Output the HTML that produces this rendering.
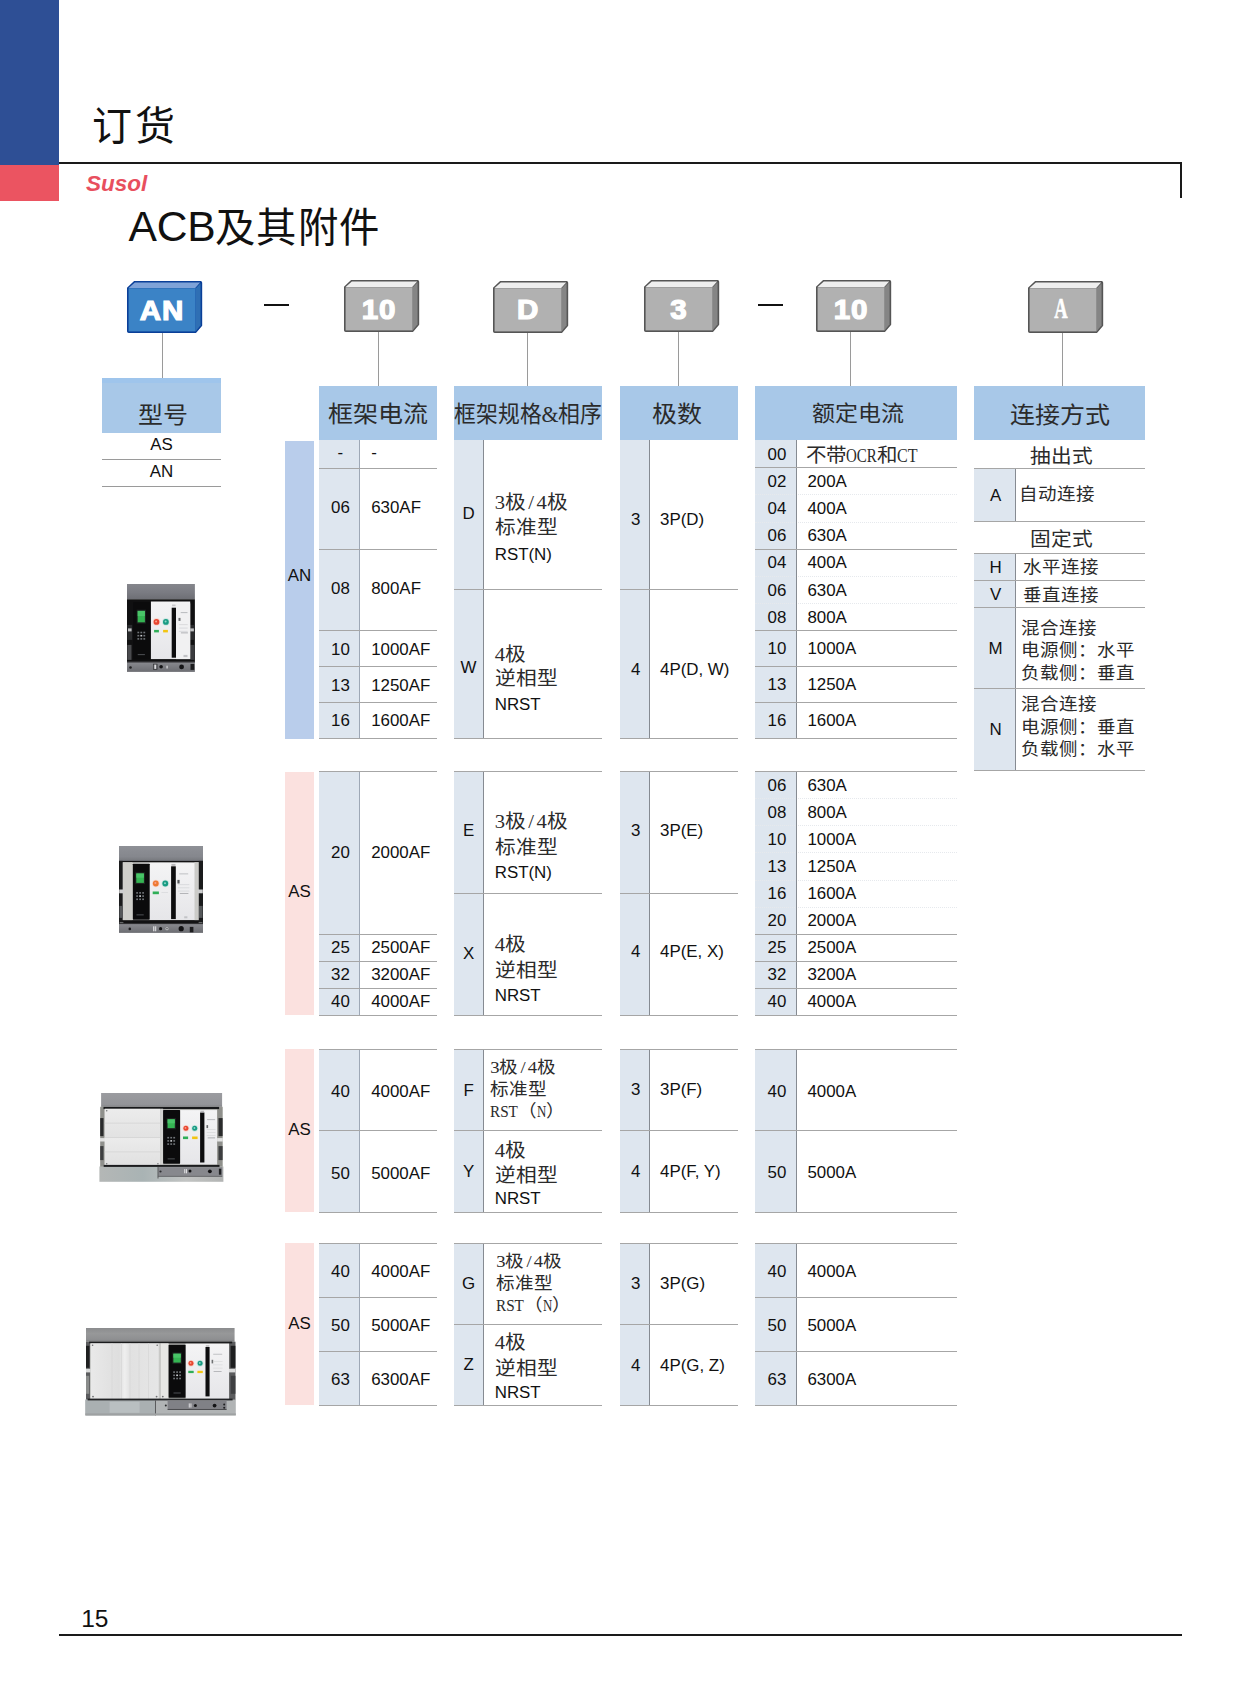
<!DOCTYPE html>
<html lang="zh-CN"><head><meta charset="utf-8"><title>订货 - ACB及其附件</title><style>
html,body{margin:0;padding:0;background:#fff;overflow:hidden}
#pg{position:relative;width:1241px;height:1684px;overflow:hidden;background:#fff;font-family:"Liberation Sans",sans-serif;color:#111}
.r{position:absolute}
.t{position:absolute;white-space:nowrap;line-height:30px;color:#111}
.s{font-family:"Liberation Sans",sans-serif;font-size:16.9px}
.c{font-family:"Liberation Serif",serif;color:#2b2b2b}
.g{font-family:"Liberation Sans",sans-serif;color:#111}
.hw{display:inline-block;vertical-align:baseline}
.hc{display:inline-block;width:.5em;text-align:center}
.hw>span{display:inline-block;transform-origin:0 50%}
</style></head><body><div id="pg">
<div class="r" style="left:0.0px;top:0.0px;width:59.0px;height:165.0px;background:#2e4f95;"></div>
<div class="r" style="left:0.0px;top:165.0px;width:59.0px;height:36.0px;background:#eb5461;"></div>
<div class="r" style="left:59.0px;top:162.2px;width:1122.6px;height:2.3px;background:#1a1a1a;"></div>
<div class="r" style="left:1179.5px;top:162.2px;width:2.2px;height:36.3px;background:#1a1a1a;"></div>
<div class="r" style="left:59.3px;top:1633.5px;width:1122.3px;height:2.2px;background:#1a1a1a;"></div>
<div class="t g" style="left:91.5px;top:96.2px;font-size:40px;line-height:60px;letter-spacing:3.1px">订货</div>
<div class="t" style="left:85.9px;top:169.4px;font-size:22.5px;line-height:30px;font-weight:bold;font-style:italic;color:#e84f5e;font-family:'Liberation Sans',sans-serif">Susol</div>
<div class="t g" style="left:128.6px;top:196.3px;font-size:42.6px;line-height:60px;letter-spacing:-.3px">ACB<span style="font-size:40.4px;position:relative;top:1.2px;letter-spacing:1.2px">及其附件</span></div>
<div class="t s" style="left:81.2px;top:1604.2px;font-size:24.5px;line-height:30px">15</div>
<div class="r" style="left:264.0px;top:304.0px;width:25.0px;height:2.0px;background:#111;"></div>
<div class="r" style="left:758.0px;top:304.0px;width:25.0px;height:2.0px;background:#111;"></div>
<svg class="r" style="left:126.2px;top:279.9px" width="77.2" height="54.0" viewBox="-1 -1 77.2 54.0"><path d="M0.8 7.1 L7.3999999999999995 0.8 L73.60000000000001 0.8 Q74.4 0.8 74.4 1.8 L74.4 44.6 L68.60000000000001 51.2 L1.8 51.2 Q0.8 51.2 0.8 50.2 Z" fill="#0a3f98" stroke="#0a3f98" stroke-width="1.6" stroke-linejoin="round"/><path d="M1.6 6.8999999999999995 L7.8 1.6 L73.2 1.6 L68.2 6.8999999999999995 Z" fill="#7fa3d8"/><path d="M68.80000000000001 7.199999999999999 L73.60000000000001 2.2 L73.60000000000001 44.199999999999996 L68.80000000000001 50.2 Z" fill="#2f6fb4"/><rect x="1.6" y="7.199999999999999" width="67.00000000000001" height="43.199999999999996" fill="#3b83c6"/></svg>
<div class="t" style="left:127.1px;width:70px;text-align:center;top:290.5px;line-height:40px;font-size:27.6px;font-weight:bold;color:#fff;font-family:'Liberation Sans',sans-serif;-webkit-text-stroke:1.2px #fff;letter-spacing:.8px;transform:scaleX(1.07)">AN</div>
<svg class="r" style="left:342.9px;top:279.0px" width="77.2" height="54.0" viewBox="-1 -1 77.2 54.0"><path d="M0.8 7.1 L7.3999999999999995 0.8 L73.60000000000001 0.8 Q74.4 0.8 74.4 1.8 L74.4 44.6 L68.60000000000001 51.2 L1.8 51.2 Q0.8 51.2 0.8 50.2 Z" fill="#555555" stroke="#555555" stroke-width="1.6" stroke-linejoin="round"/><path d="M1.6 6.8999999999999995 L7.8 1.6 L73.2 1.6 L68.2 6.8999999999999995 Z" fill="#eeeeee"/><path d="M68.80000000000001 7.199999999999999 L73.60000000000001 2.2 L73.60000000000001 44.199999999999996 L68.80000000000001 50.2 Z" fill="#858585"/><rect x="1.6" y="7.199999999999999" width="67.00000000000001" height="43.199999999999996" fill="#b1b1b1"/></svg>
<div class="t" style="left:343.8px;width:70px;text-align:center;top:289.6px;line-height:40px;font-size:27.6px;font-weight:bold;color:#fff;font-family:'Liberation Sans',sans-serif;-webkit-text-stroke:1.2px #fff;letter-spacing:.8px;transform:scaleX(1.07)">10</div>
<svg class="r" style="left:491.6px;top:279.6px" width="77.2" height="54.0" viewBox="-1 -1 77.2 54.0"><path d="M0.8 7.1 L7.3999999999999995 0.8 L73.60000000000001 0.8 Q74.4 0.8 74.4 1.8 L74.4 44.6 L68.60000000000001 51.2 L1.8 51.2 Q0.8 51.2 0.8 50.2 Z" fill="#555555" stroke="#555555" stroke-width="1.6" stroke-linejoin="round"/><path d="M1.6 6.8999999999999995 L7.8 1.6 L73.2 1.6 L68.2 6.8999999999999995 Z" fill="#eeeeee"/><path d="M68.80000000000001 7.199999999999999 L73.60000000000001 2.2 L73.60000000000001 44.199999999999996 L68.80000000000001 50.2 Z" fill="#858585"/><rect x="1.6" y="7.199999999999999" width="67.00000000000001" height="43.199999999999996" fill="#b1b1b1"/></svg>
<div class="t" style="left:492.5px;width:70px;text-align:center;top:290.2px;line-height:40px;font-size:27.6px;font-weight:bold;color:#fff;font-family:'Liberation Sans',sans-serif;-webkit-text-stroke:1.2px #fff;letter-spacing:.8px;transform:scaleX(1.07)">D</div>
<svg class="r" style="left:642.8px;top:279.2px" width="77.2" height="54.0" viewBox="-1 -1 77.2 54.0"><path d="M0.8 7.1 L7.3999999999999995 0.8 L73.60000000000001 0.8 Q74.4 0.8 74.4 1.8 L74.4 44.6 L68.60000000000001 51.2 L1.8 51.2 Q0.8 51.2 0.8 50.2 Z" fill="#555555" stroke="#555555" stroke-width="1.6" stroke-linejoin="round"/><path d="M1.6 6.8999999999999995 L7.8 1.6 L73.2 1.6 L68.2 6.8999999999999995 Z" fill="#eeeeee"/><path d="M68.80000000000001 7.199999999999999 L73.60000000000001 2.2 L73.60000000000001 44.199999999999996 L68.80000000000001 50.2 Z" fill="#858585"/><rect x="1.6" y="7.199999999999999" width="67.00000000000001" height="43.199999999999996" fill="#b1b1b1"/></svg>
<div class="t" style="left:643.7px;width:70px;text-align:center;top:289.8px;line-height:40px;font-size:27.6px;font-weight:bold;color:#fff;font-family:'Liberation Sans',sans-serif;-webkit-text-stroke:1.2px #fff;letter-spacing:.8px;transform:scaleX(1.07)">3</div>
<svg class="r" style="left:814.8px;top:279.2px" width="77.2" height="54.0" viewBox="-1 -1 77.2 54.0"><path d="M0.8 7.1 L7.3999999999999995 0.8 L73.60000000000001 0.8 Q74.4 0.8 74.4 1.8 L74.4 44.6 L68.60000000000001 51.2 L1.8 51.2 Q0.8 51.2 0.8 50.2 Z" fill="#555555" stroke="#555555" stroke-width="1.6" stroke-linejoin="round"/><path d="M1.6 6.8999999999999995 L7.8 1.6 L73.2 1.6 L68.2 6.8999999999999995 Z" fill="#eeeeee"/><path d="M68.80000000000001 7.199999999999999 L73.60000000000001 2.2 L73.60000000000001 44.199999999999996 L68.80000000000001 50.2 Z" fill="#858585"/><rect x="1.6" y="7.199999999999999" width="67.00000000000001" height="43.199999999999996" fill="#b1b1b1"/></svg>
<div class="t" style="left:815.7px;width:70px;text-align:center;top:289.8px;line-height:40px;font-size:27.6px;font-weight:bold;color:#fff;font-family:'Liberation Sans',sans-serif;-webkit-text-stroke:1.2px #fff;letter-spacing:.8px;transform:scaleX(1.07)">10</div>
<svg class="r" style="left:1026.7px;top:279.9px" width="77.2" height="54.0" viewBox="-1 -1 77.2 54.0"><path d="M0.8 7.1 L7.3999999999999995 0.8 L73.60000000000001 0.8 Q74.4 0.8 74.4 1.8 L74.4 44.6 L68.60000000000001 51.2 L1.8 51.2 Q0.8 51.2 0.8 50.2 Z" fill="#555555" stroke="#555555" stroke-width="1.6" stroke-linejoin="round"/><path d="M1.6 6.8999999999999995 L7.8 1.6 L73.2 1.6 L68.2 6.8999999999999995 Z" fill="#eeeeee"/><path d="M68.80000000000001 7.199999999999999 L73.60000000000001 2.2 L73.60000000000001 44.199999999999996 L68.80000000000001 50.2 Z" fill="#858585"/><rect x="1.6" y="7.199999999999999" width="67.00000000000001" height="43.199999999999996" fill="#b1b1b1"/></svg>
<div class="t" style="left:1031.1px;width:60px;text-align:center;top:288.3px;line-height:40px;font-size:29px;font-weight:bold;color:#fff;font-family:'Liberation Serif',serif;transform:scaleX(.64);-webkit-text-stroke:.6px #fff">A</div>
<div class="r" style="left:162.1px;top:333.0px;width:1.0px;height:45.2px;background:#9a9a9a;"></div>
<div class="r" style="left:377.8px;top:332.0px;width:1.0px;height:54.5px;background:#9a9a9a;"></div>
<div class="r" style="left:527.0px;top:332.5px;width:1.0px;height:54.0px;background:#9a9a9a;"></div>
<div class="r" style="left:678.0px;top:332.0px;width:1.0px;height:54.5px;background:#9a9a9a;"></div>
<div class="r" style="left:850.0px;top:332.0px;width:1.0px;height:54.0px;background:#9a9a9a;"></div>
<div class="r" style="left:1061.5px;top:333.0px;width:1.0px;height:53.5px;background:#9a9a9a;"></div>
<div class="r" style="left:102.3px;top:378.0px;width:118.4px;height:54.7px;background:#a8c8e8;"></div>
<div class="t c" style="top:400.8px;left:84.3px;width:158.4px;text-align:center;font-size:25px;transform:scale(1.0,0.93);transform-origin:50% 50%;">型号</div>
<div class="r" style="left:102.3px;top:378.0px;width:118.4px;height:5.0px;background:#9fc5ec;"></div>
<div class="r" style="left:318.6px;top:386.4px;width:118.1px;height:53.6px;background:#a8c8e8;"></div>
<div class="t c" style="top:400.3px;left:298.6px;width:158.1px;text-align:center;font-size:25px;transform:scale(1.0,0.93);transform-origin:50% 50%;">框架电流</div>
<div class="r" style="left:454.2px;top:386.4px;width:148.2px;height:53.6px;background:#a8c8e8;"></div>
<div class="t c" style="top:400.3px;left:434.2px;width:188.2px;text-align:center;font-size:25px;transform:scale(0.872,0.93);transform-origin:50% 50%;">框架规格&amp;相序</div>
<div class="r" style="left:619.6px;top:386.4px;width:118.0px;height:53.6px;background:#a8c8e8;"></div>
<div class="t c" style="top:399.8px;left:597.8px;width:158.0px;text-align:center;font-size:25px;transform:scale(1.0,0.93);transform-origin:50% 50%;">极数</div>
<div class="r" style="left:755.0px;top:385.6px;width:201.7px;height:54.2px;background:#a8c8e8;"></div>
<div class="t c" style="top:399.4px;left:736.8px;width:241.7px;text-align:center;font-size:23px;transform:scale(1.0,0.93);transform-origin:50% 50%;">额定电流</div>
<div class="r" style="left:974.0px;top:386.4px;width:171.3px;height:53.6px;background:#a8c8e8;"></div>
<div class="t c" style="top:400.5px;left:954.0px;width:211.3px;text-align:center;font-size:25px;transform:scale(1.0,0.93);transform-origin:50% 50%;">连接方式</div>
<div class="t s" style="top:429.9px;left:61.5px;width:200.0px;text-align:center;">AS</div>
<div class="r" style="left:102.3px;top:459.1px;width:118.4px;height:1.0px;background:#9a9a9a;"></div>
<div class="t s" style="top:457.0px;left:61.5px;width:200.0px;text-align:center;">AN</div>
<div class="r" style="left:102.3px;top:485.9px;width:118.4px;height:1.0px;background:#9a9a9a;"></div>
<div class="r" style="left:284.8px;top:440.5px;width:29.3px;height:298.0px;background:#b9cdeb;"></div>
<div class="t s" style="top:560.7px;left:199.5px;width:200.0px;text-align:center;">AN</div>
<div class="r" style="left:318.6px;top:440.0px;width:41.0px;height:298.0px;background:#dee6ef;"></div>
<div class="r" style="left:358.8px;top:440.0px;width:1.6px;height:298.0px;background:#9ea8b6;"></div>
<div class="r" style="left:318.6px;top:467.5px;width:118.1px;height:1.0px;background:#a6a6a6;"></div>
<div class="r" style="left:318.6px;top:549.0px;width:118.1px;height:1.0px;background:#a6a6a6;"></div>
<div class="r" style="left:318.6px;top:630.0px;width:118.1px;height:1.0px;background:#a6a6a6;"></div>
<div class="r" style="left:318.6px;top:665.9px;width:118.1px;height:1.0px;background:#a6a6a6;"></div>
<div class="r" style="left:318.6px;top:701.8px;width:118.1px;height:1.0px;background:#a6a6a6;"></div>
<div class="r" style="left:318.6px;top:737.5px;width:118.1px;height:1.0px;background:#a6a6a6;"></div>
<div class="t s" style="top:438.1px;left:240.4px;width:200.0px;text-align:center;">-</div>
<div class="t s" style="top:492.7px;left:240.4px;width:200.0px;text-align:center;">06</div>
<div class="t s" style="top:573.9px;left:240.4px;width:200.0px;text-align:center;">08</div>
<div class="t s" style="top:634.5px;left:240.4px;width:200.0px;text-align:center;">10</div>
<div class="t s" style="top:670.5px;left:240.4px;width:200.0px;text-align:center;">13</div>
<div class="t s" style="top:706.3px;left:240.4px;width:200.0px;text-align:center;">16</div>
<div class="t s" style="top:438.1px;left:371.2px;">-</div>
<div class="t s" style="top:492.7px;left:371.2px;">630AF</div>
<div class="t s" style="top:573.9px;left:371.2px;">800AF</div>
<div class="t s" style="top:634.5px;left:371.2px;">1000AF</div>
<div class="t s" style="top:670.5px;left:371.2px;">1250AF</div>
<div class="t s" style="top:706.3px;left:371.2px;">1600AF</div>
<div class="r" style="left:454.2px;top:440.0px;width:29.3px;height:298.0px;background:#dee6ef;"></div>
<div class="r" style="left:483.0px;top:440.0px;width:1.0px;height:298.0px;background:#868b92;"></div>
<div class="r" style="left:454.2px;top:588.5px;width:148.2px;height:1.0px;background:#a6a6a6;"></div>
<div class="r" style="left:454.2px;top:737.5px;width:148.2px;height:1.0px;background:#a6a6a6;"></div>
<div class="t s" style="top:498.7px;left:368.6px;width:200.0px;text-align:center;">D</div>
<div class="t s" style="top:652.7px;left:368.6px;width:200.0px;text-align:center;">W</div>
<div class="t c" style="top:487.2px;left:494.7px;font-size:20.7px;transform:scale(1.0,0.93);transform-origin:0 50%;">3极<span class="hc">/</span>4极</div>
<div class="t c" style="top:512.4px;left:494.7px;font-size:20.7px;transform:scale(1.0,0.93);transform-origin:0 50%;">标准型</div>
<div class="t s" style="top:540.3px;left:494.7px;">RST(N)</div>
<div class="t c" style="top:639.4px;left:494.7px;font-size:20.7px;transform:scale(1.0,0.93);transform-origin:0 50%;">4极</div>
<div class="t c" style="top:663.4px;left:494.7px;font-size:20.7px;transform:scale(1.0,0.93);transform-origin:0 50%;">逆相型</div>
<div class="t s" style="top:690.0px;left:494.7px;">NRST</div>
<div class="r" style="left:619.6px;top:440.0px;width:29.9px;height:298.0px;background:#dee6ef;"></div>
<div class="r" style="left:649.0px;top:440.0px;width:1.0px;height:298.0px;background:#868b92;"></div>
<div class="r" style="left:619.6px;top:588.5px;width:118.0px;height:1.0px;background:#a6a6a6;"></div>
<div class="r" style="left:619.6px;top:737.5px;width:118.0px;height:1.0px;background:#a6a6a6;"></div>
<div class="t s" style="top:505.1px;left:535.8px;width:200.0px;text-align:center;">3</div>
<div class="t s" style="top:654.7px;left:535.8px;width:200.0px;text-align:center;">4</div>
<div class="t s" style="top:505.1px;left:660.0px;">3P(D)</div>
<div class="t s" style="top:654.7px;left:660.0px;">4P(D, W)</div>
<div class="r" style="left:755.0px;top:440.0px;width:41.5px;height:298.2px;background:#dee6ef;"></div>
<div class="r" style="left:755.0px;top:494.3px;width:201.7px;height:0;border-top:1px dotted #e6e9ed"></div>
<div class="r" style="left:755.0px;top:521.5px;width:201.7px;height:0;border-top:1px dotted #e6e9ed"></div>
<div class="r" style="left:755.0px;top:575.8px;width:201.7px;height:0;border-top:1px dotted #e6e9ed"></div>
<div class="r" style="left:755.0px;top:603.0px;width:201.7px;height:0;border-top:1px dotted #e6e9ed"></div>
<div class="r" style="left:796.0px;top:440.0px;width:1.0px;height:298.2px;background:#868b92;"></div>
<div class="r" style="left:755.0px;top:467.2px;width:201.7px;height:1.0px;background:#a6a6a6;"></div>
<div class="r" style="left:755.0px;top:548.7px;width:201.7px;height:1.0px;background:#a6a6a6;"></div>
<div class="r" style="left:755.0px;top:629.9px;width:201.7px;height:1.0px;background:#a6a6a6;"></div>
<div class="r" style="left:755.0px;top:665.8px;width:201.7px;height:1.0px;background:#a6a6a6;"></div>
<div class="r" style="left:755.0px;top:701.8px;width:201.7px;height:1.0px;background:#a6a6a6;"></div>
<div class="r" style="left:755.0px;top:737.7px;width:201.7px;height:1.0px;background:#a6a6a6;"></div>
<div class="t s" style="top:440.0px;left:676.9px;width:200.0px;text-align:center;">00</div>
<div class="t s" style="top:466.9px;left:676.9px;width:200.0px;text-align:center;">02</div>
<div class="t s" style="top:494.0px;left:676.9px;width:200.0px;text-align:center;">04</div>
<div class="t s" style="top:521.2px;left:676.9px;width:200.0px;text-align:center;">06</div>
<div class="t s" style="top:548.3px;left:676.9px;width:200.0px;text-align:center;">04</div>
<div class="t s" style="top:575.5px;left:676.9px;width:200.0px;text-align:center;">06</div>
<div class="t s" style="top:602.6px;left:676.9px;width:200.0px;text-align:center;">08</div>
<div class="t s" style="top:634.1px;left:676.9px;width:200.0px;text-align:center;">10</div>
<div class="t s" style="top:670.1px;left:676.9px;width:200.0px;text-align:center;">13</div>
<div class="t s" style="top:706.1px;left:676.9px;width:200.0px;text-align:center;">16</div>
<div class="t s" style="top:466.9px;left:807.4px;">200A</div>
<div class="t s" style="top:494.0px;left:807.4px;">400A</div>
<div class="t s" style="top:521.2px;left:807.4px;">630A</div>
<div class="t s" style="top:548.3px;left:807.4px;">400A</div>
<div class="t s" style="top:575.5px;left:807.4px;">630A</div>
<div class="t s" style="top:602.6px;left:807.4px;">800A</div>
<div class="t s" style="top:634.1px;left:807.4px;">1000A</div>
<div class="t s" style="top:670.1px;left:807.4px;">1250A</div>
<div class="t s" style="top:706.1px;left:807.4px;">1600A</div>
<div class="t c" style="top:439.8px;left:806.0px;font-size:20.5px;transform:scale(1.0,0.93);transform-origin:0 50%;">不带<span class="hw" style="width:30.75px"><span style="transform:scaleX(0.730)">OCR</span></span>和<span class="hw" style="width:20.50px"><span style="transform:scaleX(0.783)">CT</span></span></div>
<div class="r" style="left:284.8px;top:771.8px;width:29.3px;height:243.4px;background:#fbe1df;"></div>
<div class="t s" style="top:877.3px;left:199.5px;width:200.0px;text-align:center;">AS</div>
<div class="r" style="left:318.6px;top:771.4px;width:41.0px;height:243.8px;background:#dee6ef;"></div>
<div class="r" style="left:358.8px;top:771.4px;width:1.6px;height:243.8px;background:#9ea8b6;"></div>
<div class="r" style="left:318.6px;top:770.9px;width:118.1px;height:1.0px;background:#a6a6a6;"></div>
<div class="r" style="left:318.6px;top:933.7px;width:118.1px;height:1.0px;background:#a6a6a6;"></div>
<div class="r" style="left:318.6px;top:960.8px;width:118.1px;height:1.0px;background:#a6a6a6;"></div>
<div class="r" style="left:318.6px;top:987.7px;width:118.1px;height:1.0px;background:#a6a6a6;"></div>
<div class="r" style="left:318.6px;top:1014.7px;width:118.1px;height:1.0px;background:#a6a6a6;"></div>
<div class="t s" style="top:838.1px;left:240.4px;width:200.0px;text-align:center;">20</div>
<div class="t s" style="top:933.0px;left:240.4px;width:200.0px;text-align:center;">25</div>
<div class="t s" style="top:960.0px;left:240.4px;width:200.0px;text-align:center;">32</div>
<div class="t s" style="top:987.0px;left:240.4px;width:200.0px;text-align:center;">40</div>
<div class="t s" style="top:838.1px;left:371.2px;">2000AF</div>
<div class="t s" style="top:933.0px;left:371.2px;">2500AF</div>
<div class="t s" style="top:960.0px;left:371.2px;">3200AF</div>
<div class="t s" style="top:987.0px;left:371.2px;">4000AF</div>
<div class="r" style="left:454.2px;top:771.4px;width:29.3px;height:243.8px;background:#dee6ef;"></div>
<div class="r" style="left:483.0px;top:771.4px;width:1.0px;height:243.8px;background:#868b92;"></div>
<div class="r" style="left:454.2px;top:770.9px;width:148.2px;height:1.0px;background:#a6a6a6;"></div>
<div class="r" style="left:454.2px;top:892.7px;width:148.2px;height:1.0px;background:#a6a6a6;"></div>
<div class="r" style="left:454.2px;top:1014.7px;width:148.2px;height:1.0px;background:#a6a6a6;"></div>
<div class="t s" style="top:816.2px;left:368.6px;width:200.0px;text-align:center;">E</div>
<div class="t s" style="top:938.5px;left:368.6px;width:200.0px;text-align:center;">X</div>
<div class="t c" style="top:806.4px;left:494.7px;font-size:20.7px;transform:scale(1.0,0.93);transform-origin:0 50%;">3极<span class="hc">/</span>4极</div>
<div class="t c" style="top:831.6px;left:494.7px;font-size:20.7px;transform:scale(1.0,0.93);transform-origin:0 50%;">标准型</div>
<div class="t s" style="top:858.2px;left:494.7px;">RST(N)</div>
<div class="t c" style="top:928.9px;left:494.7px;font-size:20.7px;transform:scale(1.0,0.93);transform-origin:0 50%;">4极</div>
<div class="t c" style="top:954.9px;left:494.7px;font-size:20.7px;transform:scale(1.0,0.93);transform-origin:0 50%;">逆相型</div>
<div class="t s" style="top:981.0px;left:494.7px;">NRST</div>
<div class="r" style="left:619.6px;top:771.4px;width:29.9px;height:243.8px;background:#dee6ef;"></div>
<div class="r" style="left:649.0px;top:771.4px;width:1.0px;height:243.8px;background:#868b92;"></div>
<div class="r" style="left:619.6px;top:770.9px;width:118.0px;height:1.0px;background:#a6a6a6;"></div>
<div class="r" style="left:619.6px;top:892.7px;width:118.0px;height:1.0px;background:#a6a6a6;"></div>
<div class="r" style="left:619.6px;top:1014.7px;width:118.0px;height:1.0px;background:#a6a6a6;"></div>
<div class="t s" style="top:816.2px;left:535.8px;width:200.0px;text-align:center;">3</div>
<div class="t s" style="top:937.2px;left:535.8px;width:200.0px;text-align:center;">4</div>
<div class="t s" style="top:816.2px;left:660.0px;">3P(E)</div>
<div class="t s" style="top:937.2px;left:660.0px;">4P(E, X)</div>
<div class="r" style="left:755.0px;top:771.4px;width:41.5px;height:243.8px;background:#dee6ef;"></div>
<div class="r" style="left:755.0px;top:798.1px;width:201.7px;height:0;border-top:1px dotted #e6e9ed"></div>
<div class="r" style="left:755.0px;top:825.2px;width:201.7px;height:0;border-top:1px dotted #e6e9ed"></div>
<div class="r" style="left:755.0px;top:852.3px;width:201.7px;height:0;border-top:1px dotted #e6e9ed"></div>
<div class="r" style="left:755.0px;top:879.5px;width:201.7px;height:0;border-top:1px dotted #e6e9ed"></div>
<div class="r" style="left:755.0px;top:906.5px;width:201.7px;height:0;border-top:1px dotted #e6e9ed"></div>
<div class="r" style="left:796.0px;top:771.4px;width:1.0px;height:243.8px;background:#868b92;"></div>
<div class="r" style="left:755.0px;top:770.9px;width:201.7px;height:1.0px;background:#a6a6a6;"></div>
<div class="r" style="left:755.0px;top:933.5px;width:201.7px;height:1.0px;background:#a6a6a6;"></div>
<div class="r" style="left:755.0px;top:960.5px;width:201.7px;height:1.0px;background:#a6a6a6;"></div>
<div class="r" style="left:755.0px;top:987.7px;width:201.7px;height:1.0px;background:#a6a6a6;"></div>
<div class="r" style="left:755.0px;top:1014.7px;width:201.7px;height:1.0px;background:#a6a6a6;"></div>
<div class="t s" style="top:770.5px;left:676.9px;width:200.0px;text-align:center;">06</div>
<div class="t s" style="top:797.6px;left:676.9px;width:200.0px;text-align:center;">08</div>
<div class="t s" style="top:824.7px;left:676.9px;width:200.0px;text-align:center;">10</div>
<div class="t s" style="top:851.8px;left:676.9px;width:200.0px;text-align:center;">13</div>
<div class="t s" style="top:878.9px;left:676.9px;width:200.0px;text-align:center;">16</div>
<div class="t s" style="top:906.0px;left:676.9px;width:200.0px;text-align:center;">20</div>
<div class="t s" style="top:933.0px;left:676.9px;width:200.0px;text-align:center;">25</div>
<div class="t s" style="top:960.0px;left:676.9px;width:200.0px;text-align:center;">32</div>
<div class="t s" style="top:987.0px;left:676.9px;width:200.0px;text-align:center;">40</div>
<div class="t s" style="top:770.5px;left:807.4px;">630A</div>
<div class="t s" style="top:797.6px;left:807.4px;">800A</div>
<div class="t s" style="top:824.7px;left:807.4px;">1000A</div>
<div class="t s" style="top:851.8px;left:807.4px;">1250A</div>
<div class="t s" style="top:878.9px;left:807.4px;">1600A</div>
<div class="t s" style="top:906.0px;left:807.4px;">2000A</div>
<div class="t s" style="top:933.0px;left:807.4px;">2500A</div>
<div class="t s" style="top:960.0px;left:807.4px;">3200A</div>
<div class="t s" style="top:987.0px;left:807.4px;">4000A</div>
<div class="r" style="left:284.8px;top:1049.4px;width:29.3px;height:162.4px;background:#fbe1df;"></div>
<div class="t s" style="top:1115.0px;left:199.5px;width:200.0px;text-align:center;">AS</div>
<div class="r" style="left:318.6px;top:1049.4px;width:41.0px;height:162.6px;background:#dee6ef;"></div>
<div class="r" style="left:358.8px;top:1049.4px;width:1.6px;height:162.6px;background:#9ea8b6;"></div>
<div class="r" style="left:318.6px;top:1048.9px;width:118.1px;height:1.0px;background:#a6a6a6;"></div>
<div class="r" style="left:318.6px;top:1130.0px;width:118.1px;height:1.0px;background:#a6a6a6;"></div>
<div class="r" style="left:318.6px;top:1211.5px;width:118.1px;height:1.0px;background:#a6a6a6;"></div>
<div class="t s" style="top:1077.0px;left:240.4px;width:200.0px;text-align:center;">40</div>
<div class="t s" style="top:1158.5px;left:240.4px;width:200.0px;text-align:center;">50</div>
<div class="t s" style="top:1077.0px;left:371.2px;">4000AF</div>
<div class="t s" style="top:1158.5px;left:371.2px;">5000AF</div>
<div class="r" style="left:454.2px;top:1049.4px;width:29.3px;height:162.6px;background:#dee6ef;"></div>
<div class="r" style="left:483.0px;top:1049.4px;width:1.0px;height:162.6px;background:#868b92;"></div>
<div class="r" style="left:454.2px;top:1048.9px;width:148.2px;height:1.0px;background:#a6a6a6;"></div>
<div class="r" style="left:454.2px;top:1130.0px;width:148.2px;height:1.0px;background:#a6a6a6;"></div>
<div class="r" style="left:454.2px;top:1211.5px;width:148.2px;height:1.0px;background:#a6a6a6;"></div>
<div class="t s" style="top:1075.5px;left:368.6px;width:200.0px;text-align:center;">F</div>
<div class="t s" style="top:1156.7px;left:368.6px;width:200.0px;text-align:center;">Y</div>
<div class="t c" style="top:1052.0px;left:490.2px;font-size:18.6px;transform:scale(1.0,0.93);transform-origin:0 50%;">3极<span class="hc">/</span>4极</div>
<div class="t c" style="top:1073.8px;left:490.2px;font-size:18.6px;transform:scale(1.0,0.93);transform-origin:0 50%;">标准型</div>
<div class="t c" style="top:1096.4px;left:490.2px;font-size:18.6px;transform:scale(1.0,0.93);transform-origin:0 50%;"><span class="hw" style="width:27.90px"><span style="transform:scaleX(0.818)">RST</span></span>（<span class="hw" style="width:9.30px"><span style="transform:scaleX(0.692)">N</span></span>）</div>
<div class="t c" style="top:1135.3px;left:494.7px;font-size:20.7px;transform:scale(1.0,0.93);transform-origin:0 50%;">4极</div>
<div class="t c" style="top:1159.6px;left:494.7px;font-size:20.7px;transform:scale(1.0,0.93);transform-origin:0 50%;">逆相型</div>
<div class="t s" style="top:1183.9px;left:494.7px;">NRST</div>
<div class="r" style="left:619.6px;top:1049.4px;width:29.9px;height:162.6px;background:#dee6ef;"></div>
<div class="r" style="left:649.0px;top:1049.4px;width:1.0px;height:162.6px;background:#868b92;"></div>
<div class="r" style="left:619.6px;top:1048.9px;width:118.0px;height:1.0px;background:#a6a6a6;"></div>
<div class="r" style="left:619.6px;top:1130.0px;width:118.0px;height:1.0px;background:#a6a6a6;"></div>
<div class="r" style="left:619.6px;top:1211.5px;width:118.0px;height:1.0px;background:#a6a6a6;"></div>
<div class="t s" style="top:1075.2px;left:535.8px;width:200.0px;text-align:center;">3</div>
<div class="t s" style="top:1157.0px;left:535.8px;width:200.0px;text-align:center;">4</div>
<div class="t s" style="top:1075.2px;left:660.0px;">3P(F)</div>
<div class="t s" style="top:1157.0px;left:660.0px;">4P(F, Y)</div>
<div class="r" style="left:755.0px;top:1049.4px;width:41.5px;height:162.6px;background:#dee6ef;"></div>
<div class="r" style="left:796.0px;top:1049.4px;width:1.0px;height:162.6px;background:#868b92;"></div>
<div class="r" style="left:755.0px;top:1048.9px;width:201.7px;height:1.0px;background:#a6a6a6;"></div>
<div class="r" style="left:755.0px;top:1130.0px;width:201.7px;height:1.0px;background:#a6a6a6;"></div>
<div class="r" style="left:755.0px;top:1211.5px;width:201.7px;height:1.0px;background:#a6a6a6;"></div>
<div class="t s" style="top:1077.2px;left:676.9px;width:200.0px;text-align:center;">40</div>
<div class="t s" style="top:1158.4px;left:676.9px;width:200.0px;text-align:center;">50</div>
<div class="t s" style="top:1077.2px;left:807.4px;">4000A</div>
<div class="t s" style="top:1158.4px;left:807.4px;">5000A</div>
<div class="r" style="left:284.8px;top:1243.4px;width:29.3px;height:162.0px;background:#fbe1df;"></div>
<div class="t s" style="top:1308.7px;left:199.5px;width:200.0px;text-align:center;">AS</div>
<div class="r" style="left:318.6px;top:1243.5px;width:41.0px;height:161.8px;background:#dee6ef;"></div>
<div class="r" style="left:358.8px;top:1243.5px;width:1.6px;height:161.8px;background:#9ea8b6;"></div>
<div class="r" style="left:318.6px;top:1243.0px;width:118.1px;height:1.0px;background:#a6a6a6;"></div>
<div class="r" style="left:318.6px;top:1296.8px;width:118.1px;height:1.0px;background:#a6a6a6;"></div>
<div class="r" style="left:318.6px;top:1350.8px;width:118.1px;height:1.0px;background:#a6a6a6;"></div>
<div class="r" style="left:318.6px;top:1404.8px;width:118.1px;height:1.0px;background:#a6a6a6;"></div>
<div class="t s" style="top:1256.5px;left:240.4px;width:200.0px;text-align:center;">40</div>
<div class="t s" style="top:1310.5px;left:240.4px;width:200.0px;text-align:center;">50</div>
<div class="t s" style="top:1364.9px;left:240.4px;width:200.0px;text-align:center;">63</div>
<div class="t s" style="top:1256.5px;left:371.2px;">4000AF</div>
<div class="t s" style="top:1310.5px;left:371.2px;">5000AF</div>
<div class="t s" style="top:1364.9px;left:371.2px;">6300AF</div>
<div class="r" style="left:454.2px;top:1243.5px;width:29.3px;height:161.8px;background:#dee6ef;"></div>
<div class="r" style="left:483.0px;top:1243.5px;width:1.0px;height:161.8px;background:#868b92;"></div>
<div class="r" style="left:454.2px;top:1243.0px;width:148.2px;height:1.0px;background:#a6a6a6;"></div>
<div class="r" style="left:454.2px;top:1324.1px;width:148.2px;height:1.0px;background:#a6a6a6;"></div>
<div class="r" style="left:454.2px;top:1404.8px;width:148.2px;height:1.0px;background:#a6a6a6;"></div>
<div class="t s" style="top:1269.2px;left:368.6px;width:200.0px;text-align:center;">G</div>
<div class="t s" style="top:1349.5px;left:368.6px;width:200.0px;text-align:center;">Z</div>
<div class="t c" style="top:1245.7px;left:496.2px;font-size:18.6px;transform:scale(1.0,0.93);transform-origin:0 50%;">3极<span class="hc">/</span>4极</div>
<div class="t c" style="top:1268.3px;left:496.2px;font-size:18.6px;transform:scale(1.0,0.93);transform-origin:0 50%;">标准型</div>
<div class="t c" style="top:1290.4px;left:496.2px;font-size:18.6px;transform:scale(1.0,0.93);transform-origin:0 50%;"><span class="hw" style="width:27.90px"><span style="transform:scaleX(0.818)">RST</span></span>（<span class="hw" style="width:9.30px"><span style="transform:scaleX(0.692)">N</span></span>）</div>
<div class="t c" style="top:1327.2px;left:494.7px;font-size:20.7px;transform:scale(1.0,0.93);transform-origin:0 50%;">4极</div>
<div class="t c" style="top:1352.7px;left:494.7px;font-size:20.7px;transform:scale(1.0,0.93);transform-origin:0 50%;">逆相型</div>
<div class="t s" style="top:1378.1px;left:494.7px;">NRST</div>
<div class="r" style="left:619.6px;top:1243.5px;width:29.9px;height:161.8px;background:#dee6ef;"></div>
<div class="r" style="left:649.0px;top:1243.5px;width:1.0px;height:161.8px;background:#868b92;"></div>
<div class="r" style="left:619.6px;top:1243.0px;width:118.0px;height:1.0px;background:#a6a6a6;"></div>
<div class="r" style="left:619.6px;top:1324.1px;width:118.0px;height:1.0px;background:#a6a6a6;"></div>
<div class="r" style="left:619.6px;top:1404.8px;width:118.0px;height:1.0px;background:#a6a6a6;"></div>
<div class="t s" style="top:1268.7px;left:535.8px;width:200.0px;text-align:center;">3</div>
<div class="t s" style="top:1350.5px;left:535.8px;width:200.0px;text-align:center;">4</div>
<div class="t s" style="top:1268.7px;left:660.0px;">3P(G)</div>
<div class="t s" style="top:1350.5px;left:660.0px;">4P(G, Z)</div>
<div class="r" style="left:755.0px;top:1243.5px;width:41.5px;height:161.8px;background:#dee6ef;"></div>
<div class="r" style="left:796.0px;top:1243.5px;width:1.0px;height:161.8px;background:#868b92;"></div>
<div class="r" style="left:755.0px;top:1243.0px;width:201.7px;height:1.0px;background:#a6a6a6;"></div>
<div class="r" style="left:755.0px;top:1296.8px;width:201.7px;height:1.0px;background:#a6a6a6;"></div>
<div class="r" style="left:755.0px;top:1350.8px;width:201.7px;height:1.0px;background:#a6a6a6;"></div>
<div class="r" style="left:755.0px;top:1404.8px;width:201.7px;height:1.0px;background:#a6a6a6;"></div>
<div class="t s" style="top:1256.5px;left:676.9px;width:200.0px;text-align:center;">40</div>
<div class="t s" style="top:1310.7px;left:676.9px;width:200.0px;text-align:center;">50</div>
<div class="t s" style="top:1364.5px;left:676.9px;width:200.0px;text-align:center;">63</div>
<div class="t s" style="top:1256.5px;left:807.4px;">4000A</div>
<div class="t s" style="top:1310.7px;left:807.4px;">5000A</div>
<div class="t s" style="top:1364.5px;left:807.4px;">6300A</div>
<div class="t c" style="top:440.8px;left:961.4px;width:200.0px;text-align:center;font-size:20.7px;transform:scale(1.0,0.93);transform-origin:50% 50%;">抽出式</div>
<div class="r" style="left:974.0px;top:468.0px;width:41.5px;height:53.8px;background:#dee6ef;"></div>
<div class="r" style="left:1015.0px;top:468.0px;width:1.0px;height:53.8px;background:#868b92;"></div>
<div class="r" style="left:974.0px;top:467.5px;width:171.3px;height:1.0px;background:#a6a6a6;"></div>
<div class="t s" style="top:481.0px;left:895.6px;width:200.0px;text-align:center;">A</div>
<div class="t c" style="top:478.8px;left:1019.2px;font-size:18.5px;transform:scale(1.0,0.93);transform-origin:0 50%;">自动连接</div>
<div class="r" style="left:974.0px;top:521.3px;width:171.3px;height:1.0px;background:#a6a6a6;"></div>
<div class="t c" style="top:523.8px;left:961.4px;width:200.0px;text-align:center;font-size:20.7px;transform:scale(1.0,0.93);transform-origin:50% 50%;">固定式</div>
<div class="r" style="left:974.0px;top:553.2px;width:41.5px;height:216.8px;background:#dee6ef;"></div>
<div class="r" style="left:1015.0px;top:553.2px;width:1.0px;height:216.8px;background:#868b92;"></div>
<div class="r" style="left:974.0px;top:552.7px;width:171.3px;height:1.0px;background:#a6a6a6;"></div>
<div class="r" style="left:974.0px;top:579.9px;width:171.3px;height:1.0px;background:#a6a6a6;"></div>
<div class="r" style="left:974.0px;top:606.9px;width:171.3px;height:1.0px;background:#a6a6a6;"></div>
<div class="r" style="left:974.0px;top:688.1px;width:171.3px;height:1.0px;background:#a6a6a6;"></div>
<div class="r" style="left:974.0px;top:769.5px;width:171.3px;height:1.0px;background:#a6a6a6;"></div>
<div class="t s" style="top:552.7px;left:895.6px;width:200.0px;text-align:center;">H</div>
<div class="t c" style="top:552.3px;left:1022.5px;font-size:18.5px;transform:scale(1.0,0.93);transform-origin:0 50%;">水平连接</div>
<div class="t s" style="top:579.7px;left:895.6px;width:200.0px;text-align:center;">V</div>
<div class="t c" style="top:579.8px;left:1022.5px;font-size:18.5px;transform:scale(1.0,0.93);transform-origin:0 50%;">垂直连接</div>
<div class="t s" style="top:633.7px;left:895.6px;width:200.0px;text-align:center;">M</div>
<div class="t c" style="top:612.8px;left:1020.5px;font-size:18.5px;transform:scale(1.0,0.93);transform-origin:0 50%;">混合连接</div>
<div class="t c" style="top:635.0px;left:1020.5px;font-size:18.5px;transform:scale(1.0,0.93);transform-origin:0 50%;">电源侧：水平</div>
<div class="t c" style="top:657.6px;left:1020.5px;font-size:18.5px;transform:scale(1.0,0.93);transform-origin:0 50%;">负载侧：垂直</div>
<div class="t s" style="top:714.6px;left:895.6px;width:200.0px;text-align:center;">N</div>
<div class="t c" style="top:689.2px;left:1020.5px;font-size:18.5px;transform:scale(1.0,0.93);transform-origin:0 50%;">混合连接</div>
<div class="t c" style="top:712.0px;left:1020.5px;font-size:18.5px;transform:scale(1.0,0.93);transform-origin:0 50%;">电源侧：垂直</div>
<div class="t c" style="top:734.2px;left:1020.5px;font-size:18.5px;transform:scale(1.0,0.93);transform-origin:0 50%;">负载侧：水平</div>
<svg class="r" style="left:126.1px;top:583.1px" width="69.9" height="89.9" viewBox="126.1 583.1 69.9 89.9"><defs><linearGradient id="gt" x1="0" y1="0" x2="0" y2="1"><stop offset="0" stop-color="#85868c"/><stop offset=".55" stop-color="#7a7b82"/><stop offset="1" stop-color="#6d6e74"/></linearGradient><linearGradient id="gw" x1="0" y1="0" x2="0" y2="1"><stop offset="0" stop-color="#f4f4f5"/><stop offset="1" stop-color="#e6e6e9"/></linearGradient><linearGradient id="gs" x1="0" y1="0" x2="1" y2="0"><stop offset="0" stop-color="#d4d4d2"/><stop offset=".5" stop-color="#ececec"/><stop offset="1" stop-color="#d8d8d8"/></linearGradient><linearGradient id="gb" x1="0" y1="0" x2="0" y2="1"><stop offset="0" stop-color="#8a8b90"/><stop offset="1" stop-color="#6c6d72"/></linearGradient></defs><rect x="127.1" y="584.1" width="67.9" height="15.5" fill="url(#gt)" /><rect x="127.1" y="599.4" width="67.9" height="62.8" fill="#101011" /><rect x="127.4" y="625.0" width="4.9" height="15.0" fill="#2a2b2d" /><rect x="189.8" y="625.0" width="4.9" height="15.0" fill="#2a2b2d" /><rect x="128.1" y="628.5" width="3.6" height="3.0" fill="#bfc0c2" /><rect x="190.4" y="628.5" width="3.6" height="3.0" fill="#bfc0c2" /><rect x="127.4" y="645.0" width="4.2" height="15.0" fill="#4a4b4e" /><rect x="190.5" y="645.0" width="4.2" height="15.0" fill="#3a3b3e" /><rect x="151.0" y="601.6" width="39.3" height="57.6" fill="url(#gw)" /><rect x="176.2" y="603.5" width="14.1" height="55.7" fill="#f1f1f2" /><rect x="133.4" y="602.2" width="17.0" height="57.4" fill="#0b0b0c" rx="0.6"/><rect x="136.8" y="609.8" width="9.2" height="13.8" fill="#1f2422" /><rect x="137.8" y="611.0" width="7.2" height="11.4" fill="#35b553" /><rect x="137.8" y="611.0" width="7.2" height="5.1" fill="#49c468" /><rect x="137.5" y="631.8" width="1.8" height="1.6" fill="#6f7377" /><rect x="137.5" y="635.0" width="1.8" height="1.6" fill="#6f7377" /><rect x="137.5" y="638.2" width="1.8" height="1.6" fill="#6f7377" /><rect x="140.5" y="631.8" width="1.8" height="1.6" fill="#6f7377" /><rect x="140.5" y="635.0" width="1.8" height="1.6" fill="#c9cccf" /><rect x="140.5" y="638.2" width="1.8" height="1.6" fill="#6f7377" /><rect x="143.5" y="631.8" width="1.8" height="1.6" fill="#6f7377" /><rect x="143.5" y="635.0" width="1.8" height="1.6" fill="#6f7377" /><rect x="143.5" y="638.2" width="1.8" height="1.6" fill="#6f7377" /><rect x="137.8" y="654.4" width="7.2" height="0.8" fill="#5d6166" /><rect x="171.8" y="607.8" width="4.3" height="50.0" fill="#0d0d0e" /><rect x="172.2" y="604.6" width="3.5" height="1.8" fill="#c9c9cc" /><circle cx="156.6" cy="622.0" r="3.8" fill="#f7d9d2" /><circle cx="156.6" cy="622.0" r="2.9" fill="#e8452f" /><circle cx="156.2" cy="621.6" r="1.0" fill="#f7a28f" /><circle cx="166.0" cy="622.0" r="3.8" fill="#cfe7e2" /><circle cx="166.0" cy="622.0" r="2.9" fill="#179b83" /><circle cx="165.7" cy="621.7" r="1.0" fill="#8fd6c6" /><rect x="154.2" y="630.0" width="4.8" height="2.5" fill="#2fae57" /><rect x="163.2" y="630.0" width="4.8" height="2.5" fill="#f2c512" /><rect x="178.6" y="618.0" width="2.0" height="3.0" fill="#6b6d70" /><rect x="180.8" y="612.2" width="6.8" height="1.0" fill="#b9bbbe" /><rect x="179.0" y="624.5" width="8.8" height="0.7" fill="#cfd0d3" /><rect x="179.0" y="627.8" width="8.8" height="0.7" fill="#cfd0d3" /><rect x="179.0" y="631.0" width="8.8" height="0.7" fill="#cfd0d3" /><rect x="181.0" y="632.6" width="7.0" height="0.8" fill="#9fa1a5" /><rect x="183.6" y="655.0" width="4.0" height="2.2" fill="#c2c3c6" /><rect x="127.1" y="661.9" width="67.9" height="10.1" fill="url(#gb)" /><rect x="127.1" y="661.6" width="67.9" height="1.0" fill="#2b2b2d" /><circle cx="130.6" cy="667.6" r="1.3" fill="#202022" /><circle cx="161.2" cy="666.8" r="1.8" fill="#141416" /><circle cx="181.7" cy="667.0" r="2.4" fill="#141416" /><rect x="154.6" y="664.6" width="1.4" height="4.4" fill="#e8e8ea" /><rect x="153.6" y="664.2" width="3.6" height="5.2" fill="none" stroke="#2a2a2c" stroke-width=".6"/><rect x="190.6" y="664.0" width="3.8" height="6.0" fill="#1c1c1e" /><rect x="166.4" y="665.8" width="1.6" height="2.8" fill="#c5c6c9" /></svg>
<svg class="r" style="left:118.2px;top:845.1px" width="86.0" height="88.9" viewBox="118.2 845.1 86.0 88.9"><defs><linearGradient id="ht" x1="0" y1="0" x2="0" y2="1"><stop offset="0" stop-color="#8e9096"/><stop offset=".7" stop-color="#85878d"/><stop offset="1" stop-color="#74767b"/></linearGradient></defs><rect x="119.2" y="846.1" width="84.0" height="15.3" fill="url(#ht)" /><rect x="119.2" y="861.0" width="84.0" height="63.0" fill="#121213" /><rect x="122.6" y="862.4" width="76.6" height="57.8" fill="url(#gs)" /><rect x="122.6" y="862.4" width="10.0" height="57.8" fill="#cfcfcb" /><rect x="194.6" y="862.4" width="4.6" height="57.8" fill="#cbcbc8" /><rect x="150.0" y="863.2" width="44.6" height="56.8" fill="url(#gw)" /><rect x="133.0" y="863.8" width="16.9" height="56.0" fill="#0b0b0c" rx="0.6"/><rect x="135.5" y="872.4" width="9.6" height="11.8" fill="#1f2422" /><rect x="136.5" y="873.6" width="7.6" height="9.4" fill="#35b553" /><rect x="136.5" y="873.6" width="7.6" height="4.2" fill="#49c468" /><rect x="136.4" y="892.2" width="1.8" height="1.6" fill="#6f7377" /><rect x="136.4" y="895.4" width="1.8" height="1.6" fill="#6f7377" /><rect x="136.4" y="898.6" width="1.8" height="1.6" fill="#6f7377" /><rect x="139.4" y="892.2" width="1.8" height="1.6" fill="#6f7377" /><rect x="139.4" y="895.4" width="1.8" height="1.6" fill="#c9cccf" /><rect x="139.4" y="898.6" width="1.8" height="1.6" fill="#6f7377" /><rect x="142.4" y="892.2" width="1.8" height="1.6" fill="#6f7377" /><rect x="142.4" y="895.4" width="1.8" height="1.6" fill="#6f7377" /><rect x="142.4" y="898.6" width="1.8" height="1.6" fill="#6f7377" /><rect x="136.7" y="914.6" width="7.2" height="0.8" fill="#5d6166" /><rect x="171.3" y="866.4" width="4.7" height="52.8" fill="#0d0d0e" /><rect x="171.6" y="864.0" width="4.1" height="2.0" fill="#b9b9bb" /><circle cx="156.0" cy="883.6" r="3.8" fill="#f7d9d2" /><circle cx="156.0" cy="883.6" r="2.9" fill="#ee7a33" /><circle cx="155.6" cy="883.2" r="1.0" fill="#f7a28f" /><circle cx="165.5" cy="883.6" r="3.8" fill="#cfe7e2" /><circle cx="165.5" cy="883.6" r="2.9" fill="#179b83" /><circle cx="165.2" cy="883.3" r="1.0" fill="#8fd6c6" /><rect x="152.9" y="891.6" width="6.2" height="2.7" fill="#2fae57" /><rect x="161.6" y="892.3" width="6.6" height="0.8" fill="#d9dadc" /><rect x="177.6" y="880.0" width="2.2" height="3.6" fill="#55575a" /><rect x="179.4" y="873.6" width="9.0" height="0.8" fill="#b3b5b8" /><rect x="178.0" y="884.5" width="11.6" height="0.7" fill="#d2d3d6" /><rect x="178.0" y="887.6" width="11.6" height="0.7" fill="#d2d3d6" /><rect x="178.0" y="890.8" width="11.6" height="0.7" fill="#d2d3d6" /><rect x="180.0" y="893.2" width="8.6" height="0.8" fill="#a5a7ab" /><rect x="184.4" y="916.4" width="3.2" height="2.0" fill="#c3c4c7" /><rect x="119.2" y="861.0" width="3.6" height="63.0" fill="#1a1b1c" /><rect x="199.0" y="861.0" width="4.2" height="63.0" fill="#1a1b1c" /><rect x="119.4" y="889.6" width="4.8" height="3.8" fill="#cdcecf" /><rect x="198.2" y="889.6" width="4.8" height="3.8" fill="#cdcecf" /><rect x="119.6" y="906.0" width="3.0" height="12.0" fill="#55585a" /><rect x="199.2" y="906.0" width="3.6" height="12.0" fill="#55585a" /><rect x="119.8" y="922.6" width="3.8" height="3.4" fill="#aeb0b2" /><rect x="198.8" y="922.6" width="3.8" height="3.4" fill="#aeb0b2" /><rect x="119.2" y="923.6" width="84.0" height="9.4" fill="url(#gb)" /><rect x="119.2" y="923.2" width="84.0" height="1.0" fill="#2b2b2d" /><circle cx="130.0" cy="929.0" r="1.3" fill="#1b1b1d" /><circle cx="160.8" cy="928.8" r="1.6" fill="#141416" /><circle cx="181.4" cy="928.8" r="2.6" fill="#121214" /><rect x="153.4" y="926.4" width="1.2" height="5.0" fill="#e6e6e8" /><rect x="155.4" y="926.4" width="1.0" height="5.0" fill="#e6e6e8" /><circle cx="167.2" cy="928.8" r="1.5" fill="#d0d1d3" /><circle cx="167.2" cy="928.8" r="0.8" fill="#47494c" /><rect x="190.0" y="927.0" width="3.6" height="5.4" fill="#1c1c1e" /></svg>
<svg class="r" style="left:98.9px;top:1091.9px" width="124.8" height="90.8" viewBox="98.9 1091.9 124.8 90.8"><defs><linearGradient id="it" x1="0" y1="0" x2="0" y2="1"><stop offset="0" stop-color="#9b9ca0"/><stop offset=".8" stop-color="#939498"/><stop offset="1" stop-color="#808185"/></linearGradient><linearGradient id="ip" x1="0" y1="0" x2="0" y2="1"><stop offset="0" stop-color="#ececec"/><stop offset=".5" stop-color="#e2e2e2"/><stop offset=".52" stop-color="#ebebeb"/><stop offset="1" stop-color="#e0e0e0"/></linearGradient><linearGradient id="ib" x1="0" y1="0" x2="1" y2="0"><stop offset="0" stop-color="#b4b7b6"/><stop offset=".35" stop-color="#a9b3b4"/><stop offset=".7" stop-color="#c2c4c3"/><stop offset="1" stop-color="#b2b4b3"/></linearGradient></defs><rect x="101.0" y="1092.9" width="121.0" height="14.3" fill="url(#it)" /><rect x="99.9" y="1106.6" width="122.8" height="60.4" fill="#bcbcb8" /><rect x="100.3" y="1107.0" width="4.1" height="60.0" fill="#8f908c" /><rect x="217.2" y="1107.0" width="5.1" height="60.0" fill="#8f908c" /><rect x="100.1" y="1118.0" width="3.3" height="18.0" fill="#2a2b2c" /><rect x="218.4" y="1118.0" width="4.1" height="18.0" fill="#2a2b2c" /><rect x="99.9" y="1138.0" width="5.1" height="3.4" fill="#e3e3e3" /><rect x="217.0" y="1138.0" width="5.7" height="3.4" fill="#e3e3e3" /><rect x="100.1" y="1146.0" width="3.3" height="14.0" fill="#3d3e40" /><rect x="218.4" y="1146.0" width="4.1" height="14.0" fill="#3d3e40" /><rect x="103.4" y="1106.8" width="115.6" height="2.2" fill="#17181a" /><rect x="104.6" y="1108.6" width="55.6" height="57.4" fill="url(#ip)" /><rect x="104.6" y="1122.6" width="55.6" height="0.8" fill="#d4d4d4" /><rect x="104.6" y="1137.0" width="55.6" height="0.8" fill="#d4d4d4" /><rect x="104.6" y="1151.4" width="55.6" height="0.8" fill="#d4d4d4" /><rect x="160.2" y="1108.6" width="2.8" height="57.4" fill="#d2d2d0" /><circle cx="106.6" cy="1110.6" r="0.8" fill="#7a7b7d" /><circle cx="106.6" cy="1163.6" r="0.8" fill="#7a7b7d" /><circle cx="157.8" cy="1163.6" r="0.8" fill="#7a7b7d" /><rect x="180.0" y="1110.0" width="36.9" height="54.2" fill="url(#gw)" /><rect x="163.0" y="1110.0" width="17.0" height="53.6" fill="#0b0b0c" rx="0.6"/><rect x="166.5" y="1118.0" width="9.2" height="11.2" fill="#1f2422" /><rect x="167.5" y="1119.2" width="7.2" height="8.8" fill="#35b553" /><rect x="167.5" y="1119.2" width="7.2" height="4.0" fill="#49c468" /><rect x="167.2" y="1136.8" width="1.8" height="1.6" fill="#6f7377" /><rect x="167.2" y="1140.0" width="1.8" height="1.6" fill="#6f7377" /><rect x="167.2" y="1143.2" width="1.8" height="1.6" fill="#6f7377" /><rect x="170.2" y="1136.8" width="1.8" height="1.6" fill="#6f7377" /><rect x="170.2" y="1140.0" width="1.8" height="1.6" fill="#c9cccf" /><rect x="170.2" y="1143.2" width="1.8" height="1.6" fill="#6f7377" /><rect x="173.2" y="1136.8" width="1.8" height="1.6" fill="#6f7377" /><rect x="173.2" y="1140.0" width="1.8" height="1.6" fill="#6f7377" /><rect x="173.2" y="1143.2" width="1.8" height="1.6" fill="#6f7377" /><rect x="167.5" y="1158.4" width="7.2" height="0.8" fill="#5d6166" /><rect x="200.0" y="1112.4" width="4.3" height="50.0" fill="#0d0d0e" /><rect x="200.3" y="1110.6" width="3.7" height="1.6" fill="#bdbdbf" /><circle cx="185.8" cy="1128.2" r="3.4" fill="#f7d9d2" /><circle cx="185.8" cy="1128.2" r="2.5" fill="#e8452f" /><circle cx="185.4" cy="1127.8" r="0.9" fill="#f7a28f" /><circle cx="194.6" cy="1128.2" r="3.4" fill="#cfe7e2" /><circle cx="194.6" cy="1128.2" r="2.5" fill="#179b83" /><circle cx="194.3" cy="1127.9" r="0.9" fill="#8fd6c6" /><rect x="182.9" y="1136.4" width="5.1" height="2.6" fill="#2fae57" /><rect x="192.0" y="1136.4" width="5.5" height="2.6" fill="#f2c512" /><rect x="206.4" y="1125.0" width="1.6" height="3.0" fill="#66686b" /><rect x="207.0" y="1119.2" width="8.0" height="0.8" fill="#aeb0b3" /><rect x="206.6" y="1129.0" width="8.8" height="0.6" fill="#d3d4d6" /><rect x="206.6" y="1132.0" width="8.8" height="0.6" fill="#d3d4d6" /><rect x="206.6" y="1135.0" width="8.8" height="0.6" fill="#d3d4d6" /><rect x="207.6" y="1137.4" width="7.4" height="0.8" fill="#9da0a3" /><rect x="99.3" y="1166.4" width="124.0" height="15.3" fill="url(#ib)" /><rect x="103.6" y="1164.8" width="115.8" height="2.0" fill="#1b1c1e" /><rect x="157.8" y="1167.0" width="64.4" height="9.2" fill="#87888d" /><rect x="157.4" y="1166.8" width="1.0" height="11.6" fill="#5d5e60" /><rect x="157.8" y="1175.8" width="64.4" height="0.8" fill="#58595c" /><circle cx="160.4" cy="1171.4" r="1.1" fill="#2b2c2e" /><circle cx="189.9" cy="1171.0" r="1.5" fill="#131315" /><circle cx="209.8" cy="1171.2" r="1.9" fill="#131315" /><rect x="184.2" y="1169.0" width="1.0" height="4.2" fill="#eaeaec" /><rect x="186.0" y="1169.0" width="0.9" height="4.2" fill="#eaeaec" /><rect x="218.8" y="1168.6" width="2.4" height="6.0" fill="#202123" /></svg>
<svg class="r" style="left:85.4px;top:1327.2px" width="151.4" height="89.4" viewBox="85.4 1327.2 151.4 89.4"><defs><linearGradient id="jt" x1="0" y1="0" x2="0" y2="1"><stop offset="0" stop-color="#8b8c8e"/><stop offset=".4" stop-color="#979899"/><stop offset=".8" stop-color="#8e8f91"/><stop offset="1" stop-color="#7a7b7d"/></linearGradient><linearGradient id="jp" x1="0" y1="0" x2="1" y2="0"><stop offset="0" stop-color="#e9e9e9"/><stop offset=".42" stop-color="#dedede"/><stop offset=".5" stop-color="#efefef"/><stop offset=".58" stop-color="#e1e1e1"/><stop offset="1" stop-color="#e6e6e6"/></linearGradient></defs><rect x="86.4" y="1328.2" width="148.6" height="14.2" fill="url(#jt)" /><rect x="86.4" y="1341.8" width="149.4" height="58.6" fill="#b9bab7" /><rect x="86.4" y="1342.0" width="4.2" height="58.2" fill="#5b5c5e" /><rect x="229.6" y="1342.0" width="6.2" height="58.2" fill="#5b5c5e" /><rect x="86.4" y="1346.0" width="3.4" height="22.0" fill="#1e1f20" /><rect x="231.0" y="1346.0" width="4.8" height="22.0" fill="#1e1f20" /><rect x="86.4" y="1369.0" width="4.6" height="3.6" fill="#dadbdb" /><rect x="229.4" y="1369.0" width="6.4" height="3.6" fill="#dadbdb" /><rect x="86.4" y="1376.0" width="3.2" height="18.0" fill="#8a8c8b" /><rect x="231.2" y="1376.0" width="4.6" height="18.0" fill="#3f4042" /><rect x="89.6" y="1341.8" width="143.0" height="1.8" fill="#1a1b1d" /><rect x="90.9" y="1343.5" width="68.4" height="55.9" fill="url(#jp)" /><rect x="112.0" y="1343.5" width="0.8" height="55.9" fill="#d8d8d8" /><rect x="121.6" y="1343.5" width="0.8" height="55.9" fill="#d8d8d8" /><rect x="130.0" y="1343.5" width="0.8" height="55.9" fill="#d8d8d8" /><rect x="139.0" y="1343.5" width="0.8" height="55.9" fill="#d8d8d8" /><rect x="148.6" y="1343.5" width="0.8" height="55.9" fill="#d8d8d8" /><rect x="159.3" y="1343.5" width="2.1" height="55.9" fill="#c9c9c7" /><rect x="161.4" y="1343.5" width="7.6" height="55.9" fill="#e6e6e4" /><circle cx="93.0" cy="1345.4" r="0.8" fill="#6f7072" /><circle cx="93.4" cy="1396.8" r="0.9" fill="#6f7072" /><circle cx="157.0" cy="1396.8" r="0.9" fill="#6f7072" /><circle cx="157.6" cy="1345.4" r="0.8" fill="#6f7072" /><circle cx="163.2" cy="1396.8" r="0.9" fill="#6f7072" /><rect x="186.0" y="1344.0" width="43.4" height="55.2" fill="url(#gw)" /><rect x="169.0" y="1345.0" width="17.0" height="53.0" fill="#0b0b0c" rx="0.6"/><rect x="172.8" y="1352.7" width="9.4" height="11.3" fill="#1f2422" /><rect x="173.8" y="1353.9" width="7.4" height="8.9" fill="#35b553" /><rect x="173.8" y="1353.9" width="7.4" height="4.0" fill="#49c468" /><rect x="173.6" y="1371.5" width="1.8" height="1.6" fill="#6f7377" /><rect x="173.6" y="1374.7" width="1.8" height="1.6" fill="#6f7377" /><rect x="173.6" y="1377.9" width="1.8" height="1.6" fill="#6f7377" /><rect x="176.6" y="1371.5" width="1.8" height="1.6" fill="#6f7377" /><rect x="176.6" y="1374.7" width="1.8" height="1.6" fill="#c9cccf" /><rect x="176.6" y="1377.9" width="1.8" height="1.6" fill="#6f7377" /><rect x="179.6" y="1371.5" width="1.8" height="1.6" fill="#6f7377" /><rect x="179.6" y="1374.7" width="1.8" height="1.6" fill="#6f7377" /><rect x="179.6" y="1377.9" width="1.8" height="1.6" fill="#6f7377" /><rect x="173.9" y="1392.8" width="7.2" height="0.8" fill="#5d6166" /><rect x="205.9" y="1347.2" width="4.1" height="49.4" fill="#0d0d0e" /><rect x="206.2" y="1345.4" width="3.5" height="1.6" fill="#bdbdbf" /><circle cx="191.4" cy="1363.5" r="3.4" fill="#f7d9d2" /><circle cx="191.4" cy="1363.5" r="2.5" fill="#e8452f" /><circle cx="191.0" cy="1363.1" r="0.9" fill="#f7a28f" /><circle cx="200.5" cy="1363.5" r="3.4" fill="#cfe7e2" /><circle cx="200.5" cy="1363.5" r="2.5" fill="#179b83" /><circle cx="200.2" cy="1363.2" r="0.9" fill="#8fd6c6" /><rect x="188.7" y="1371.0" width="5.4" height="2.3" fill="#2fae57" /><rect x="197.8" y="1371.0" width="5.4" height="2.3" fill="#f2c512" /><rect x="212.0" y="1360.0" width="1.6" height="3.6" fill="#707274" /><rect x="213.6" y="1354.0" width="9.0" height="0.8" fill="#b4b6b9" /><rect x="213.4" y="1361.6" width="9.6" height="0.6" fill="#d6d7d9" /><rect x="213.4" y="1364.8" width="9.6" height="0.6" fill="#d6d7d9" /><rect x="213.4" y="1368.0" width="9.6" height="0.6" fill="#d6d7d9" /><rect x="214.0" y="1371.4" width="8.0" height="0.8" fill="#aaacb0" /><rect x="85.8" y="1399.8" width="150.4" height="15.8" fill="#b1b4b5" /><rect x="85.8" y="1399.8" width="70.0" height="15.8" fill="#aab0b2" /><rect x="110.0" y="1402.0" width="30.0" height="11.0" fill="#b9bfc1" /><rect x="88.0" y="1398.8" width="145.0" height="1.8" fill="#222325" /><rect x="155.4" y="1400.4" width="1.0" height="15.2" fill="#5a5b5d" /><rect x="168.0" y="1400.8" width="59.0" height="8.8" fill="#808186" /><rect x="168.0" y="1409.2" width="59.0" height="1.0" fill="#4c4d50" /><circle cx="166.2" cy="1405.8" r="1.0" fill="#2a2b2d" /><circle cx="195.8" cy="1405.6" r="1.5" fill="#131315" /><circle cx="215.0" cy="1405.8" r="1.9" fill="#131315" /><rect x="189.2" y="1403.6" width="0.9" height="4.2" fill="#eaeaec" /><rect x="190.9" y="1403.6" width="0.9" height="4.2" fill="#eaeaec" /><circle cx="224.6" cy="1404.6" r="1.0" fill="#1e1f21" /><circle cx="224.6" cy="1408.0" r="1.0" fill="#1e1f21" /><rect x="85.8" y="1413.6" width="150.4" height="2.0" fill="#9ea1a2" /></svg>
</div></body></html>
